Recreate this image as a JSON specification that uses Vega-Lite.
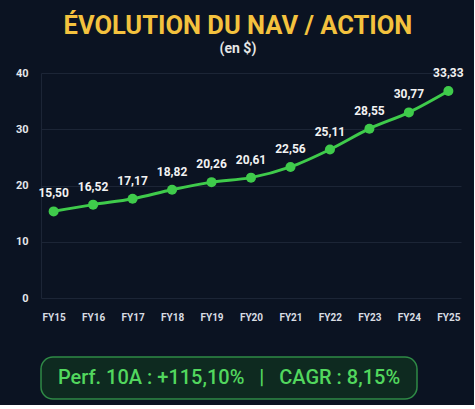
{
  "$schema": "https://vega.github.io/schema/vega-lite/v6.json",
  "background": "#0b1322",
  "padding": {"left": 12, "top": 13, "right": 10, "bottom": 5},
  "title": {
    "text": "ÉVOLUTION DU NAV / ACTION",
    "subtitle": "(en $)",
    "anchor": "middle",
    "font": "Roboto",
    "fontSize": 25.5,
    "fontWeight": "bold",
    "color": "#f4c23e",
    "subtitleFont": "Roboto",
    "subtitleFontSize": 14,
    "subtitleFontWeight": "bold",
    "subtitleColor": "#e6e6e6",
    "subtitlePadding": 3,
    "offset": 11
  },
  "config": {
    "view": {"stroke": null},
    "font": "Roboto"
  },
  "spacing": 34,
  "vconcat": [
    {
      "width": 420,
      "height": 225,
      "data": {
        "values": [
          {"fy": "FY15", "nav": 15.4, "label": "15,50"},
          {"fy": "FY16", "nav": 16.6, "label": "16,52"},
          {"fy": "FY17", "nav": 17.65, "label": "17,17"},
          {"fy": "FY18", "nav": 19.25, "label": "18,82"},
          {"fy": "FY19", "nav": 20.6, "label": "20,26"},
          {"fy": "FY20", "nav": 21.4, "label": "20,61"},
          {"fy": "FY21", "nav": 23.3, "label": "22,56"},
          {"fy": "FY22", "nav": 26.4, "label": "25,11"},
          {"fy": "FY23", "nav": 30.1, "label": "28,55"},
          {"fy": "FY24", "nav": 33.0, "label": "30,77"},
          {"fy": "FY25", "nav": 36.8, "label": "33,33"}
        ]
      },
      "encoding": {
        "x": {
          "field": "fy",
          "type": "ordinal",
          "scale": {"type": "point", "padding": 0.32},
          "axis": {
            "title": null,
            "labelAngle": 0,
            "labelFontSize": 10,
            "labelFontWeight": "bold",
            "labelColor": "#d8dce2",
            "labelPadding": 14,
            "ticks": false,
            "domain": false,
            "grid": false
          }
        },
        "y": {
          "field": "nav",
          "type": "quantitative",
          "scale": {"domain": [0, 40]},
          "axis": {
            "title": null,
            "values": [0, 10, 20, 30, 40],
            "labelFontSize": 11,
            "labelFontWeight": "bold",
            "labelColor": "#e4e6ea",
            "labelPadding": 13,
            "ticks": false,
            "domain": true,
            "domainColor": "#1c2536",
            "gridColor": "#1c2536",
            "gridWidth": 1
          }
        }
      },
      "layer": [
        {
          "mark": {"type": "line", "color": "#3fcb4b", "strokeWidth": 3, "interpolate": "monotone"}
        },
        {
          "mark": {"type": "circle", "color": "#3fcb4b", "size": 100, "opacity": 1}
        },
        {
          "mark": {"type": "text", "dy": -18, "fontSize": 12, "fontWeight": "bold", "color": "#f2f2f2"},
          "encoding": {"text": {"field": "label"}}
        }
      ]
    },
    {
      "width": 376,
      "height": 42,
      "view": {"fill": "#0e2a20", "stroke": "#2f8a46", "strokeWidth": 1.5, "cornerRadius": 12},
      "data": {"values": [{"k": "box", "txt": "Perf. 10A : +115,10%\u00a0\u00a0\u00a0|\u00a0\u00a0\u00a0CAGR : 8,15%"}]},
      "mark": {"type": "text", "fontSize": 20, "fontWeight": 500, "color": "#52d75e", "align": "center", "baseline": "middle"},
      "encoding": {
        "y": {
          "field": "k",
          "type": "nominal",
          "axis": {"title": null, "labels": false, "ticks": false, "domain": false, "grid": false, "minExtent": 28, "maxExtent": 28}
        },
        "text": {"field": "txt"}
      }
    }
  ]
}
